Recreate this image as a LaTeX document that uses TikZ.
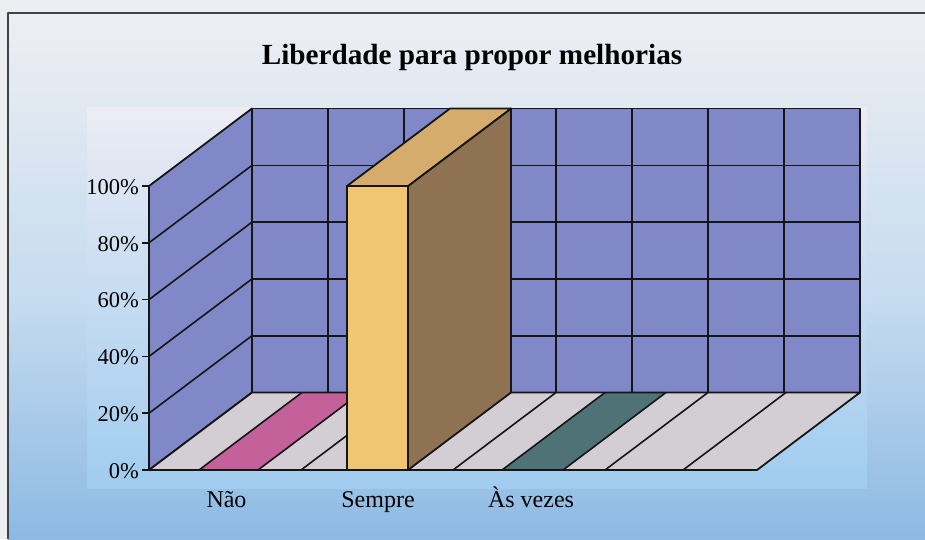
\documentclass[tikz,border=0pt]{standalone}
\usepackage{fontspec}
\setmainfont{Liberation Serif}
\definecolor{wallc}{HTML}{8088C8}
\definecolor{floorc}{HTML}{D2CED3}
\definecolor{pinkc}{HTML}{C4609A}
\definecolor{tealc}{HTML}{4E7276}
\definecolor{barfront}{HTML}{F0C672}
\definecolor{bartop}{HTML}{D6AC6C}
\definecolor{barside}{HTML}{8E7252}
\definecolor{bgtop}{HTML}{EDEEF2}
\definecolor{bgmid}{HTML}{C8DDF0}
\definecolor{bgbot}{HTML}{8AB8E2}
\definecolor{patop}{HTML}{ECECF4}
\definecolor{pamid}{HTML}{D4E3F2}
\definecolor{pabot}{HTML}{A0CCEF}
\definecolor{framec}{HTML}{404448}
\definecolor{inkc}{HTML}{151515}
\begin{document}
\begin{tikzpicture}[x=1pt,y=-1pt,line join=round,
  edge/.style={draw=inkc,line width=1.8pt},
  grid/.style={draw=inkc,line width=1.6pt},
  ylab/.style={anchor=east,inner sep=0pt,font=\fontsize{22.5}{24}\selectfont},
  xlab/.style={anchor=base,inner sep=0pt,font=\fontsize{24}{26}\selectfont},
  ttl/.style={anchor=base,inner sep=0pt,font=\fontsize{29.2}{31}\selectfont\bfseries}]
\useasboundingbox (0,0) rectangle (925,539);
% background: outer gradient built from strips
\fill[bgtop] (0,0) rectangle (925,539);
\foreach \i in {0,...,26} {
  \pgfmathtruncatemacro\p{100*\i/26}
  \fill[bgmid!\p!bgtop] (8,13+\i*10) rectangle (925,23.5+\i*10);
}
\foreach \i in {0,...,26} {
  \pgfmathtruncatemacro\p{100*\i/26}
  \fill[bgbot!\p!bgmid] (8,283+\i*10) rectangle (925,293.5+\i*10);
}
\shade[top color=patop,middle color=pamid,bottom color=pabot] (87pt,-107pt) rectangle (867pt,-488pt);
% frame lines
\draw[framec,line width=1.3pt] (8,539) -- (8,13) -- (925,13);
% coordinates
\coordinate (F0) at (149,470);
\coordinate (F100) at (149,186);
\coordinate (B0) at (252,392.5);
\coordinate (B100) at (252,108.5);
\coordinate (BR0) at (860,392.5);
\coordinate (BR100) at (860,108.5);
\coordinate (FR0) at (757,470);
% back wall
\fill[wallc] (B0) rectangle (BR100);
\foreach \k in {1,...,4} \draw[grid] (252,108.5+56.8*\k) -- (860,108.5+56.8*\k);
\foreach \k in {1,...,7} \draw[grid] (252+76*\k,108.5) -- (252+76*\k,392.5);
\draw[edge] (B0) rectangle (BR100);
% side wall
\fill[wallc] (F0) -- (F100) -- (B100) -- (B0) -- cycle;
\foreach \k in {1,...,4} \draw[grid] (149,470-56.8*\k) -- (252,392.5-56.8*\k);
\draw[edge] (F0) -- (F100) -- (B100) -- (B0) -- cycle;
% floor
\fill[floorc] (F0) -- (FR0) -- (BR0) -- (B0) -- cycle;
\fill[pinkc] (199,470) -- (258,470) -- (361,392.5) -- (302,392.5) -- cycle;
\fill[tealc] (502,470) -- (563,470) -- (666,392.5) -- (605,392.5) -- cycle;
\draw[grid] (199,470) -- (302,392.5);
\draw[grid] (258,470) -- (361,392.5);
\draw[grid] (502,470) -- (605,392.5);
\draw[grid] (563,470) -- (666,392.5);
\foreach \f in {301,453,605,683} \draw[grid] (\f,470) -- (\f+103,392.5);
\draw[edge] (F0) -- (FR0) -- (BR0) -- (B0) -- cycle;
% bar "Sempre"
\filldraw[edge,fill=barside] (408,186) -- (511,108.5) -- (511,392.5) -- (408,470) -- cycle;
\filldraw[edge,fill=bartop] (347,186) -- (408,186) -- (511,108.5) -- (450,108.5) -- cycle;
\filldraw[edge,fill=barfront] (347,186) rectangle (408,470);
% axis ticks and labels
\foreach \k/\t in {0/0\%,1/20\%,2/40\%,3/60\%,4/80\%,5/100\%} {
  \draw[grid] (142,470-56.8*\k) -- (149,470-56.8*\k);
  \node[ylab] (y\k) at (139,471-56.8*\k) {\t};
}
\node[xlab] (nao) at (226.5,507) {Não};
\node[xlab] (sempre) at (378,507) {Sempre};
\node[xlab] (asvezes) at (531,507) {Às vezes};
\node[ttl] (title) at (472,64) {Liberdade para propor melhorias};
\end{tikzpicture}
\end{document}
